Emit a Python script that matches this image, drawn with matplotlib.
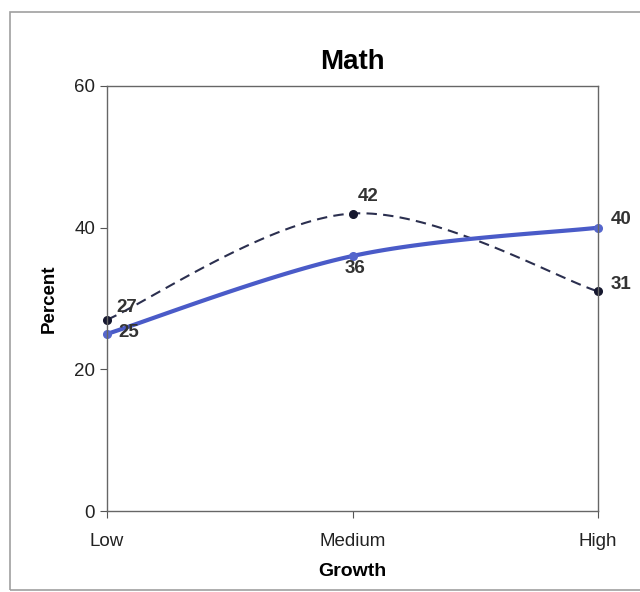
import numpy as np
import matplotlib
matplotlib.use("Agg")
import matplotlib.pyplot as plt
from matplotlib.patches import Rectangle

plt.rcParams['font.family'] = ['Liberation Sans', 'DejaVu Sans']

# Data
categories = ["Low", "Medium", "High"]
series_dashed = [27, 42, 31]
series_solid = [25, 36, 40]
y_ticks = [0, 20, 40, 60]


def smooth(xs, ys, n=40):
    """Excel-style smoothed line (Bezier through the points)."""
    pts = np.column_stack([xs, ys]).astype(float)
    ext = np.vstack([pts[0], pts, pts[-1]])
    out = []
    t = np.linspace(0, 1, n)[:, None]
    for i in range(len(pts) - 1):
        p0, p3 = ext[i + 1], ext[i + 2]
        c1 = p0 + (ext[i + 2] - ext[i]) / 6
        c2 = p3 - (ext[i + 3] - ext[i + 1]) / 6
        seg = ((1 - t) ** 3) * p0 + 3 * ((1 - t) ** 2) * t * c1 \
            + 3 * (1 - t) * t ** 2 * c2 + t ** 3 * p3
        out.append(seg)
    out = np.vstack(out)
    return out[:, 0], out[:, 1]


fig = plt.figure(figsize=(6.4, 5.92), dpi=100)

# Outer chart border
fig.patches.append(Rectangle((10 / 640, 2 / 592), 1.0, 578 / 592,
                             transform=fig.transFigure, fill=False,
                             edgecolor="#a0a0a0", linewidth=1.2))

ax = fig.add_axes([107 / 640, 81 / 592, 491 / 640, 425 / 592])
x = np.arange(len(categories))

# Dashed series
sx, sy = smooth(x, series_dashed)
ax.plot(sx, sy, linestyle=(0, (5, 3)), color="#2b2f4f", linewidth=1.5,
        clip_on=False)
ax.plot(x, series_dashed, "o", color="#15172e", markersize=5.5, clip_on=False)

# Solid series
sx, sy = smooth(x, series_solid)
ax.plot(sx, sy, color="#4a5bc8", linewidth=3, clip_on=False)
ax.plot(x, series_solid, "o", color="#5566cc", markersize=5.5, clip_on=False)

lbl = dict(fontsize=13.5, fontweight="bold", color="#333333")
ax.annotate(str(series_dashed[0]), (x[0], series_dashed[0]),
            xytext=(7, 3), textcoords="offset points", ha="left", va="bottom", **lbl)
ax.annotate(str(series_solid[0]), (x[0], series_solid[0]),
            xytext=(8, 1), textcoords="offset points", ha="left", va="center", **lbl)
ax.annotate(str(series_dashed[1]), (x[1], series_dashed[1]),
            xytext=(11, 6), textcoords="offset points", ha="center", va="bottom", **lbl)
ax.annotate(str(series_solid[1]), (x[1], series_solid[1]),
            xytext=(2, -3), textcoords="offset points", ha="center", va="top", **lbl)
ax.annotate(str(series_solid[2]), (x[2], series_solid[2]),
            xytext=(9, 6), textcoords="offset points", ha="left", va="center", **lbl)
ax.annotate(str(series_dashed[2]), (x[2], series_dashed[2]),
            xytext=(9, 5), textcoords="offset points", ha="left", va="center", **lbl)

ax.set_xlim(0, len(categories) - 1)
ax.set_ylim(0, 60)
ax.set_yticks(y_ticks)
ax.set_xticks(x)
ax.set_xticklabels(categories)
ax.tick_params(axis="both", direction="out", length=5, color="#555555",
               labelsize=13.5, labelcolor="#222222")
ax.tick_params(axis="x", pad=11)
for s in ax.spines.values():
    s.set_color("#666666")
    s.set_linewidth(1)

ax.set_title("Math", fontsize=20, fontweight="bold", pad=12)
ax.set_xlabel("Growth", fontsize=14, fontweight="bold", labelpad=9)
ax.set_ylabel("Percent", fontsize=13.5, fontweight="bold", labelpad=12)

fig.savefig("out.png", dpi=100)
